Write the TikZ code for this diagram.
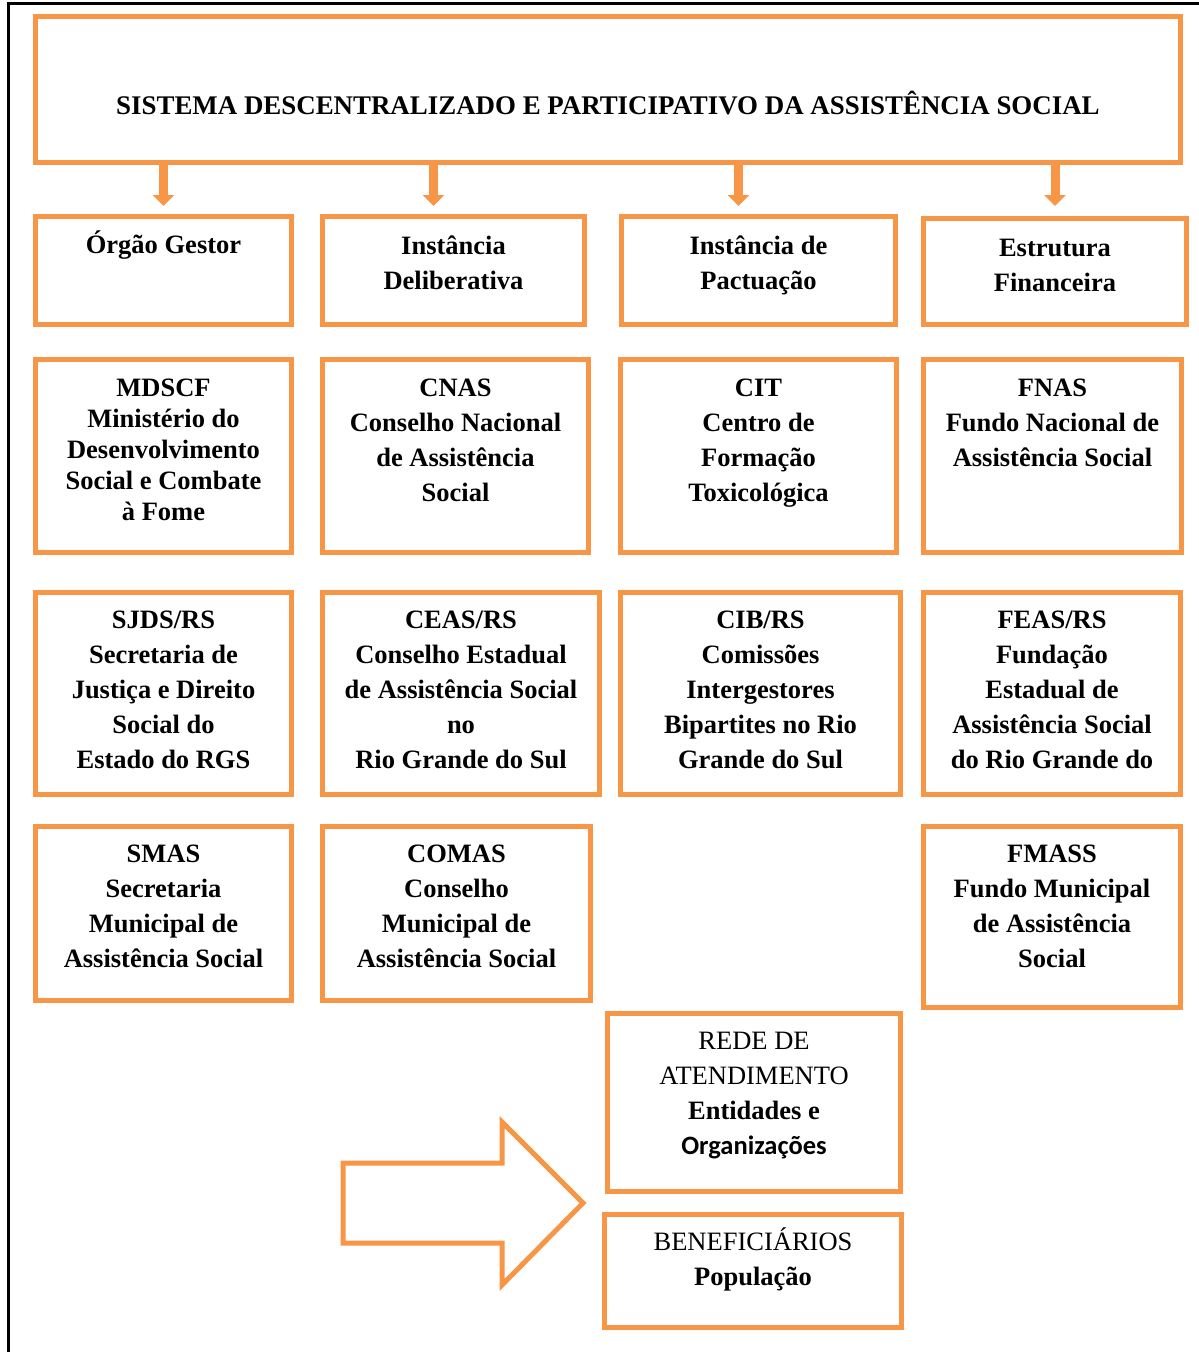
\documentclass[tikz,border=0pt]{standalone}
\usepackage{fontspec}
\setmainfont{Liberation Serif}
\newfontfamily\calibri{Carlito}
\usetikzlibrary{arrows.meta}
\definecolor{boxorange}{HTML}{F79646}

\begin{document}
\begin{tikzpicture}[x=1pt,y=-1pt,box/.style={draw=boxorange,line width=5pt,inner sep=0pt},txt/.style={anchor=north,align=center,inner sep=0pt,font=\fontsize{26.5}{35}\selectfont\bfseries},tight/.style={font=\fontsize{26.5}{31}\selectfont\bfseries},flow/.style={draw=boxorange,line width=9pt,-{Triangle[width=21pt,length=11pt]}}]
\useasboundingbox (0,0) rectangle (1199,1352);
\draw[line width=3pt] (8,1352) -- (8,3) -- (1199,3);
\node[box,minimum width=1145pt,minimum height=146pt] (title) at (608,89.5) {};
\node[font=\fontsize{26.9}{35}\selectfont\bfseries,anchor=base,inner sep=0pt] (titlet) at ([yshift=-24.5pt]title.center) {SISTEMA DESCENTRALIZADO E PARTICIPATIVO DA ASSISTÊNCIA SOCIAL};
\node[box,minimum width=256pt,minimum height=108pt] (gestor) at (163.5,270.5) {};
\node[txt] (gestort) at ([yshift=-17pt]gestor.north) {Órgão Gestor};
\node[box,minimum width=262pt,minimum height=108pt] (deli) at (453.5,270.5) {};
\node[txt] (delit) at ([yshift=-22pt]deli.north) {Instância\\Deliberativa};
\node[box,minimum width=274pt,minimum height=108pt] (pact) at (758.5,270.5) {};
\node[txt] (pactt) at ([yshift=-22pt]pact.north) {Instância de\\Pactuação};
\node[box,minimum width=263pt,minimum height=106pt] (finan) at (1055,271.5) {};
\node[txt] (finant) at ([yshift=-23pt]finan.north) {Estrutura\\Financeira};
% arrows from the system box
\coordinate (c1) at (gestor.north);
\coordinate (c2) at ([xshift=-20pt]deli.north);
\coordinate (c3) at ([xshift=-20pt]pact.north);
\coordinate (c4) at (finan.north);
\draw[flow] (title.south -| c1) -- ([yshift=8pt]c1);
\draw[flow] (title.south -| c2) -- ([yshift=8pt]c2);
\draw[flow] (title.south -| c3) -- ([yshift=8pt]c3);
\draw[flow] (title.south -| c4) -- ([yshift=10pt]c4);
% federal level
\node[box,minimum width=256pt,minimum height=193pt] (mdscf) at (163.5,456) {};
\node[txt,tight] (mdscft) at ([yshift=-21.5pt]mdscf.north) {MDSCF\\Ministério do\\Desenvolvimento\\Social e Combate\\à Fome};
\node[box,minimum width=266pt,minimum height=193pt] (cnas) at (455.5,456) {};
\node[txt] (cnast) at ([yshift=-21.5pt]cnas.north) {CNAS\\Conselho Nacional\\de Assistência\\Social};
\node[box,minimum width=276pt,minimum height=193pt] (cit) at (758.5,456) {};
\node[txt] (citt) at ([yshift=-21.5pt]cit.north) {CIT\\Centro de\\Formação\\Toxicológica};
\node[box,minimum width=258pt,minimum height=193pt] (fnas) at (1052.5,456) {};
\node[txt] (fnast) at ([yshift=-21.5pt]fnas.north) {FNAS\\Fundo Nacional de\\Assistência Social};
% state level
\node[box,minimum width=256pt,minimum height=202pt] (sjds) at (163.5,693.5) {};
\node[txt] (sjdst) at ([yshift=-21pt]sjds.north) {SJDS/RS\\Secretaria de\\Justiça e Direito\\Social do\\Estado do RGS};
\node[box,minimum width=277pt,minimum height=202pt] (ceas) at (461,693.5) {};
\node[txt] (ceast) at ([yshift=-21pt]ceas.north) {CEAS/RS\\Conselho Estadual\\de Assistência Social\\no\\Rio Grande do Sul};
\node[box,minimum width=280pt,minimum height=202pt] (cib) at (760.5,693.5) {};
\node[txt] (cibt) at ([yshift=-21pt]cib.north) {CIB/RS\\Comissões\\Intergestores\\Bipartites no Rio\\Grande do Sul};
\node[box,minimum width=257pt,minimum height=202pt] (feas) at (1052,693.5) {};
\node[txt] (feast) at ([yshift=-21pt]feas.north) {FEAS/RS\\Fundação\\Estadual de\\Assistência Social\\do Rio Grande do};
% municipal level
\node[box,minimum width=256pt,minimum height=174pt] (smas) at (163.5,913.5) {};
\node[txt] (smast) at ([yshift=-21pt]smas.north) {SMAS\\Secretaria\\Municipal de\\Assistência Social};
\node[box,minimum width=268pt,minimum height=174pt] (comas) at (456.5,913.5) {};
\node[txt] (comast) at ([yshift=-21pt]comas.north) {COMAS\\Conselho\\Municipal de\\Assistência Social};
\node[box,minimum width=257pt,minimum height=181pt] (fmass) at (1052,917) {};
\node[txt] (fmasst) at ([yshift=-21pt]fmass.north) {FMASS\\Fundo Municipal\\de Assistência\\Social};
% network and beneficiaries
\node[box,minimum width=293pt,minimum height=178pt] (rede) at (754,1102.5) {};
\node[txt] (redet) at ([yshift=-21pt]rede.north) {\mdseries REDE DE\\\mdseries ATENDIMENTO\\Entidades e\\\calibri Organizações};
\node[box,minimum width=297pt,minimum height=113pt] (benef) at (753,1271) {};
\node[txt] (beneft) at ([yshift=-16pt]benef.north) {\mdseries BENEFICIÁRIOS\\População};
\draw[draw=boxorange,line width=5pt,line join=miter] (343,1163) -- (502,1163) -- (502,1122) -- (583,1203) -- (502,1285) -- (502,1243) -- (343,1243) -- cycle;
\end{tikzpicture}
\end{document}
